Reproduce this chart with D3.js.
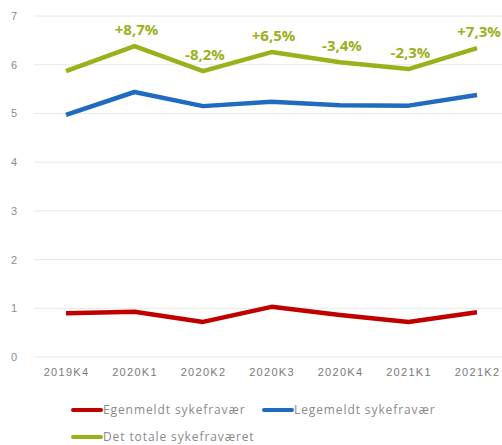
<!DOCTYPE html>
<html>
<head>
<meta charset="utf-8">
<script src="https://cdn.jsdelivr.net/npm/d3@7"></script>
<style>
    body { margin: 0; background: #fff; }
    svg { font-family: "Open Sans", sans-serif; }
</style>
</head>
<body>
<svg class="chart" width="502" height="445"></svg>
<script>
let quarters = ['2019K4', '2020K1', '2020K2', '2020K3', '2020K4', '2021K1', '2021K2'];
let egenmeldt = [0.90, 0.93, 0.72, 1.03, 0.86, 0.72, 0.92];
let legemeldt = [4.97, 5.44, 5.15, 5.24, 5.17, 5.16, 5.38];
let totalt = [5.87, 6.38, 5.87, 6.26, 6.05, 5.91, 6.34];
let changes = ['', '+8,7%', '-8,2%', '+6,5%', '-3,4%', '-2,3%', '+7,3%'];
let yTicks = [0, 1, 2, 3, 4, 5, 6, 7];
let seriesNames = ['Egenmeldt sykefravær', 'Legemeldt sykefravær', 'Det totale sykefraværet'];

let colors = ['#c00000', '#1f6bbf', '#9cb01c'];

var svg = d3.select(".chart");

var x = d3.scalePoint()
    .domain(quarters)
    .range([66, 477]);

var y = d3.scaleLinear()
    .domain([0, 7])
    .range([357, 16]);

// gridlines
var grid = svg.append("g").attr("class", "grid");
grid.selectAll("line")
    .data(yTicks)
    .enter().append("line")
    .attr("x1", 34)
    .attr("x2", 502)
    .attr("y1", function(d) { return y(d); })
    .attr("y2", function(d) { return y(d); })
    .attr("stroke", "#e8e8e8")
    .attr("stroke-width", 1);

// y axis (labels only)
var yAxis = svg.append("g")
    .attr("transform", "translate(20,0)")
    .call(d3.axisLeft(y).tickValues(yTicks).tickSize(0).tickPadding(0).tickFormat(d3.format("d")));
yAxis.select(".domain").remove();
yAxis.selectAll("text")
    .attr("fill", "#8c8c8c")
    .attr("font-size", "11px")
    .attr("text-anchor", "middle")
    .attr("x", -6);

// x axis (labels only)
var xAxis = svg.append("g")
    .attr("transform", "translate(0,368)")
    .call(d3.axisBottom(x).tickSize(0).tickPadding(0));
xAxis.select(".domain").remove();
xAxis.selectAll("text")
    .attr("fill", "#7a7a7a")
    .attr("font-size", "11px")
    .attr("letter-spacing", "1.3px");

// lines
var line = d3.line()
    .x(function(d, i) { return x(quarters[i]); })
    .y(function(d) { return y(d); });

let allSeries = [egenmeldt, legemeldt, totalt];
svg.append("g").attr("class", "lines")
    .selectAll("path")
    .data(allSeries)
    .enter().append("path")
    .attr("d", line)
    .attr("fill", "none")
    .attr("stroke", function(d, i) { return colors[i]; })
    .attr("stroke-width", 4.5)
    .attr("stroke-linejoin", "round");

// change labels above total line
svg.append("g").attr("class", "changes")
    .selectAll("text")
    .data(changes)
    .enter().append("text")
    .attr("x", function(d, i) { return x(quarters[i]) + 2; })
    .attr("y", function(d, i) { return y(totalt[i]) - 11; })
    .attr("text-anchor", "middle")
    .attr("font-size", "15px")
    .attr("font-weight", "bold")
    .attr("fill", "#9cb01c")
    .text(function(d) { return d; });

// legend
let legendPos = [[72, 410], [263, 410], [72, 437]];
var legend = svg.append("g").attr("class", "legend");
var items = legend.selectAll("g")
    .data(seriesNames)
    .enter().append("g")
    .attr("transform", function(d, i) { return "translate(" + legendPos[i][0] + "," + legendPos[i][1] + ")"; });
items.append("line")
    .attr("x1", 1)
    .attr("x2", 29)
    .attr("stroke", function(d, i) { return colors[i]; })
    .attr("stroke-width", 4)
    .attr("stroke-linecap", "round");
items.append("text")
    .attr("x", 31)
    .attr("y", 4)
    .attr("font-size", "12px")
    .attr("letter-spacing", "0.9px")
    .attr("fill", "#8a8a8a")
    .text(function(d) { return d; });
</script>
</body>
</html>
